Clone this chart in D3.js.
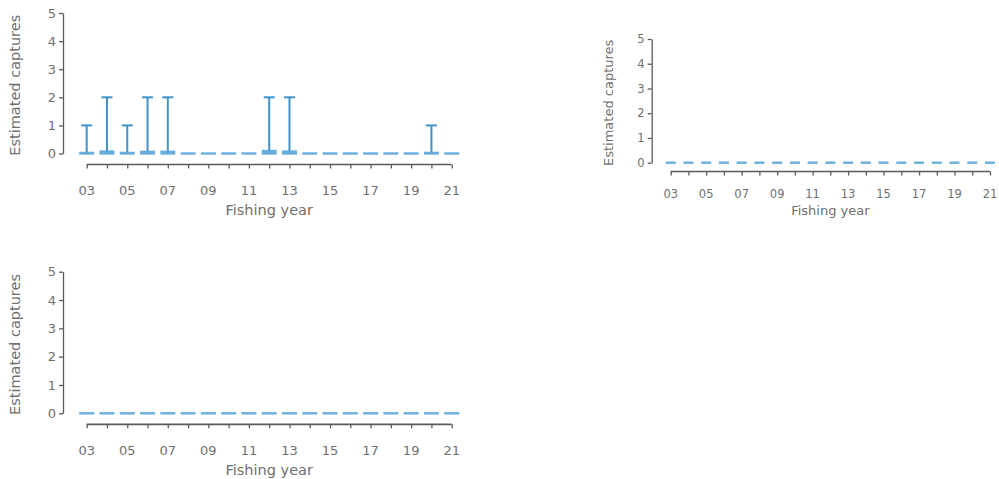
<!DOCTYPE html>
<html><head><meta charset="utf-8">
<script src="https://cdn.jsdelivr.net/npm/d3@7"></script>
<style>body{margin:0;background:#fff}svg{display:block}</style>
</head><body>
<script>
const years = ["03","04","05","06","07","08","09","10","11","12","13","14","15","16","17","18","19","20","21"];
const tickLabels = ["03","05","07","09","11","13","15","17","19","21"];
const yTicks = [0,1,2,3,4,5];
// panel A: upper error bound and central box top
const upperA = [1,2,1,2,2,0,0,0,0,2,2,0,0,0,0,0,0,1,0];
const midA   = [0.02,0.07,0.02,0.06,0.06,0,0,0,0,0.09,0.07,0,0,0,0,0,0,0.02,0];
const upperB = [0,0,0,0,0,0,0,0,0,0,0,0,0,0,0,0,0,0,0];
const midB   = [0,0,0,0,0,0,0,0,0,0,0,0,0,0,0,0,0,0,0];
const upperC = [0,0,0,0,0,0,0,0,0,0,0,0,0,0,0,0,0,0,0];
const midC   = [0,0,0,0,0,0,0,0,0,0,0,0,0,0,0,0,0,0,0];

const W = 999, H = 479;
const svg = d3.select("body").append("svg").attr("width", W).attr("height", H);
const axisCol = "#5a5a5a", textCol = "#707070", barCol = "#4192c8", dashCol = "#5aa5d8";
const FF = "DejaVu Sans";

const panels = [
  {upper: upperA, mid: midA, x0: 86.7, x1: 451.7, yAxisX: 63, y0: 153.5, y5: 13, xAxisY: 164.5,
   tick: 13, title: 14.5, tickLabY: 194.5, titleY: 215, ylabX: 16, dash: 15, cap: 11},
  {upper: upperB, mid: midB, x0: 670.7, x1: 990, yAxisX: 651.7, y0: 162.7, y5: 39, xAxisY: 171.5,
   tick: 11.5, title: 13, tickLabY: 197.5, titleY: 215, ylabX: 609, dash: 10, cap: 8},
  {upper: upperC, mid: midC, x0: 86.7, x1: 451.7, yAxisX: 63, y0: 413.3, y5: 271.7, xAxisY: 424.3,
   tick: 13, title: 14.5, tickLabY: 454.5, titleY: 475, ylabX: 16, dash: 15, cap: 11}
];

panels.forEach(p => {
  const g = svg.append("g");
  const x = d3.scalePoint().domain(years).range([p.x0, p.x1]);
  const y = d3.scaleLinear().domain([0, 5]).range([p.y0, p.y5]);

  // y axis
  const ya = g.append("g").attr("transform", `translate(${p.yAxisX},0)`)
    .call(d3.axisLeft(y).tickValues(yTicks).tickFormat(d3.format("d")).tickSize(4).tickPadding(3).tickSizeOuter(0));
  ya.select(".domain").attr("stroke", axisCol).attr("stroke-width", 1.3);
  ya.selectAll(".tick line").attr("stroke", axisCol).attr("stroke-width", 1.3);
  ya.selectAll("text").attr("fill", textCol).style("font-family", FF).style("font-size", p.tick + "px");

  // x axis
  const xa = g.append("g").attr("transform", `translate(0,${p.xAxisY})`)
    .call(d3.axisBottom(x).tickSize(4).tickPadding(3).tickSizeOuter(0).tickFormat(() => ""));
  xa.select(".domain").attr("stroke", axisCol).attr("stroke-width", 1.7).attr("d", `M${p.x0},0H${p.x1}`);
  xa.selectAll(".tick line").attr("stroke", axisCol).attr("stroke-width", 1.3);
  g.selectAll(".xl").data(tickLabels).enter().append("text")
    .attr("x", d => x(d)).attr("y", p.tickLabY).attr("text-anchor", "middle")
    .attr("fill", textCol).style("font-family", FF).style("font-size", p.tick + "px").text(d => d);
  g.append("text").attr("x", (p.x0 + p.x1) / 2).attr("y", p.titleY).attr("text-anchor", "middle")
    .attr("fill", textCol).style("font-family", FF).style("font-size", p.title + "px").text("Fishing year");
  g.append("text").attr("transform", `translate(${p.ylabX},${(p.y0 + p.y5) / 2 + 2}) rotate(-90)`)
    .attr("text-anchor", "middle").attr("dominant-baseline", "middle")
    .attr("fill", textCol).style("font-family", FF).style("font-size", p.title + "px").text("Estimated captures");

  const data = years.map((yr, i) => ({yr, up: p.upper[i], mid: p.mid[i]}));
  // error bars
  const eb = data.filter(d => d.up > 0);
  g.selectAll(".eb").data(eb).enter().append("line")
    .attr("x1", d => x(d.yr)).attr("x2", d => x(d.yr))
    .attr("y1", d => y(0)).attr("y2", d => y(d.up))
    .attr("stroke", barCol).attr("stroke-width", 2);
  g.selectAll(".cap").data(eb).enter().append("line")
    .attr("x1", d => x(d.yr) - p.cap / 2).attr("x2", d => x(d.yr) + p.cap / 2)
    .attr("y1", d => y(d.up)).attr("y2", d => y(d.up))
    .attr("stroke", barCol).attr("stroke-width", 2);
  // central boxes / dashes
  g.selectAll(".box").data(data).enter().append("rect")
    .attr("x", d => x(d.yr) - p.dash / 2).attr("width", p.dash)
    .attr("y", d => Math.min(y(d.mid), y(0)) - 1.2)
    .attr("height", d => Math.abs(y(0) - y(d.mid)) + 2.4)
    .attr("fill", dashCol).attr("opacity", 0.9);
});
</script>
</body></html>
